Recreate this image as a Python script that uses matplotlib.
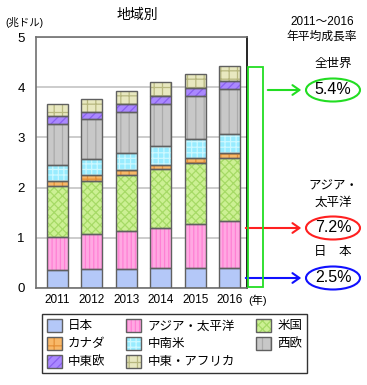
import matplotlib
matplotlib.use("Agg")
import matplotlib.pyplot as plt
import numpy as np
from matplotlib.patches import Patch, Ellipse, Rectangle
from matplotlib.legend_handler import HandlerTuple

plt.rcParams['font.family'] = ['Liberation Sans', 'Noto Sans CJK JP', 'DejaVu Sans']
plt.rcParams['hatch.linewidth'] = 0.9

years = ['2011', '2012', '2013', '2014', '2015', '2016']
regions = ['日本', 'アジア・太平洋', '米国', 'カナダ', '中南米', '西欧', '中東欧', '中東・アフリカ']
japan   = [0.36, 0.38, 0.38, 0.39, 0.40, 0.40]
asia    = [0.66, 0.69, 0.75, 0.81, 0.87, 0.94]
usa     = [1.02, 1.07, 1.12, 1.17, 1.22, 1.24]
canada  = [0.10, 0.11, 0.10, 0.09, 0.09, 0.10]
latam   = [0.31, 0.31, 0.33, 0.36, 0.38, 0.39]
weu     = [0.82, 0.81, 0.82, 0.84, 0.86, 0.89]
ceu     = [0.15, 0.13, 0.16, 0.16, 0.17, 0.17]
mea     = [0.24, 0.26, 0.26, 0.28, 0.28, 0.30]
series = [japan, asia, usa, canada, latam, weu, ceu, mea]

growth_labels = ['全世界', 'アジア・\n太平洋', '日　本']
growth_values = ['5.4%', '7.2%', '2.5%']

faces   = ['#B4C8F8', '#FFA8E2', '#CCF094', '#F8B868', '#98ECFF', '#C8C8C8', '#AA88FF', '#E8E8C0']
hatches = [None, '||||', 'xxxx', '++', '+++', '||', '////', '++']
hcolors = ['#B4C8F8', '#FF80D4', '#A6DA66', '#E49038', '#CCF8FF', '#ABABAB', '#8A60F0', '#B8B880']

W, H = 367, 385
fig = plt.figure(figsize=(W/100, H/100), dpi=100)
ax = fig.add_axes([36/W, 1-288/H, (247-36)/W, (288-37)/H])

x = np.arange(len(years))
bottom = np.zeros(len(years))
handles = []
for vals, fc, hp, hc in zip(series, faces, hatches, hcolors):
    vals = np.array(vals)
    b1 = ax.bar(x, vals, 0.61, bottom=bottom, color=fc, edgecolor=hc, hatch=hp, linewidth=0, zorder=2)
    b2 = ax.bar(x, vals, 0.61, bottom=bottom, fill=False, edgecolor='#606060', linewidth=1.0, zorder=3)
    handles.append((b1[0], b2[0]))
    bottom += vals

ax.set_xlim(-0.614, 5.5)
ax.set_ylim(0, 5)
ax.set_yticks([0, 1, 2, 3, 4, 5])
ax.set_xticks(x)
ax.set_xticklabels(years, fontsize=8.5)
ax.tick_params(axis='y', labelsize=9.5, length=0, pad=8)
ax.tick_params(axis='x', length=0, pad=4)
ax.yaxis.grid(True, color='#C8C8C8', linewidth=1.3, zorder=0)
ax.set_axisbelow(True)
for s in ['left', 'top', 'bottom']:
    ax.spines[s].set_color('#707070')
    ax.spines[s].set_linewidth(1.2)
ax.spines['right'].set_color('black')
ax.spines['right'].set_linewidth(1.2)

def fp(px, py):
    return (px / W, 1 - py / H)

fig.text(*fp(137, 15), '地域別', ha='center', va='center', fontsize=10)
fig.text(*fp(24, 23), '(兆ドル)', ha='center', va='center', fontsize=7.5)
fig.text(*fp(258, 300), '(年)', ha='center', va='center', fontsize=8)
fig.text(*fp(322, 22), '2011～2016', ha='center', va='center', fontsize=8.5)
fig.text(*fp(322, 37), '年平均成長率', ha='center', va='center', fontsize=8.5)

# bracket
fig.add_artist(Rectangle(fp(248.5, 287), 14/W, (287-67)/H, transform=fig.transFigure,
                         fill=False, edgecolor='#22DD22', linewidth=1.3))

ys = [90, 228, 278]
label_y = [[64], [187, 203], [252]]
cols = ['#22DD22', '#FF2020', '#1010FF']
starts = [265, 243, 243]
for lab, val, yy, ly, c, sx in zip(growth_labels, growth_values, ys, label_y, cols, starts):
    parts = lab.split('\n')
    for p, lyy in zip(parts, ly):
        fig.text(*fp(333, lyy), p, ha='center', va='center', fontsize=9)
    fig.add_artist(Ellipse(fp(333, yy), 54/W, 23/H, transform=fig.transFigure,
                           fill=False, edgecolor=c, linewidth=1.5))
    fig.text(*fp(333, yy), val, ha='center', va='center', fontsize=11.5)
    ax.annotate('', xy=(304, H - yy), xycoords='figure pixels',
                xytext=(sx, H - yy), textcoords='figure pixels',
                arrowprops=dict(arrowstyle='->,head_length=0.5,head_width=0.35', color=c, lw=1.5),
                annotation_clip=False)

# legend order (column-wise fill)
order = [0, 3, 6, 1, 4, 7, 2, 5]
leg = fig.legend([handles[i] for i in order], [regions[i] for i in order],
                 handler_map={tuple: HandlerTuple(ndivide=1, pad=0)},
                 ncol=3, loc='lower left',
                 bbox_to_anchor=(36/W, 6/H, (313-36)/W, 63/H), mode='expand',
                 fontsize=9, frameon=True, fancybox=False, edgecolor='black',
                 handlelength=1.2, handleheight=1.2, handletextpad=0.5,
                 labelspacing=0.35, borderpad=0.35, columnspacing=1.0)
leg.get_frame().set_linewidth(1.0)

fig.savefig('out.png', dpi=100)
